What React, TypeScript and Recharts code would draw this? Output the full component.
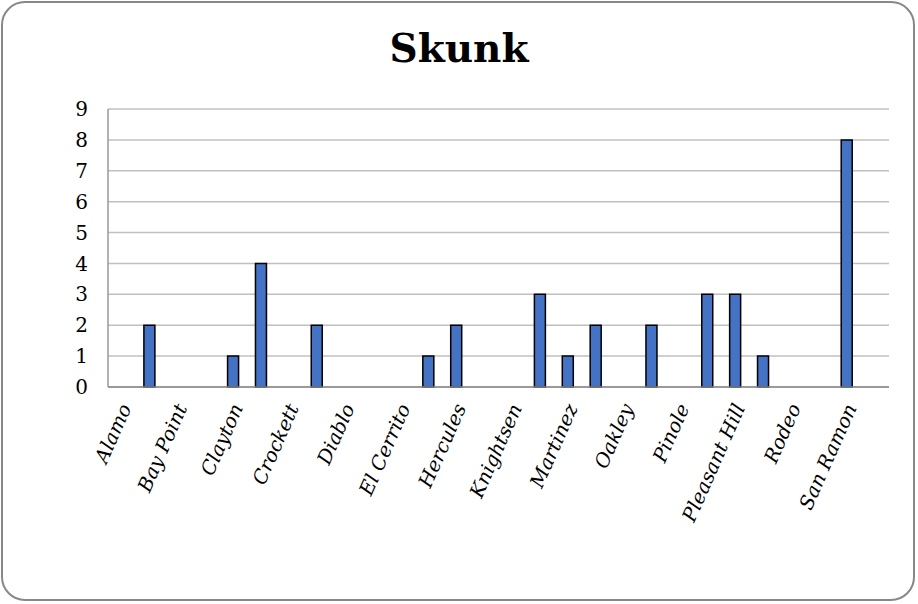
import { Bar, BarChart, CartesianGrid, XAxis, YAxis } from 'recharts'

// Skunk reports by community
const towns = [
  'Alamo', 'Antioch', 'Bay Point', 'Brentwood', 'Clayton', 'Concord', 'Crockett',
  'Danville', 'Diablo', 'Discovery Bay', 'El Cerrito', 'El Sobrante', 'Hercules',
  'Kensington', 'Knightsen', 'Lafayette', 'Martinez', 'Moraga', 'Oakley', 'Orinda',
  'Pinole', 'Pittsburg', 'Pleasant Hill', 'Richmond', 'Rodeo', 'San Pablo',
  'San Ramon', 'Walnut Creek',
]
const counts = [
  0, 2, 0, 0, 1, 4, 0,
  2, 0, 0, 0, 1, 2,
  0, 0, 3, 1, 2, 0, 2,
  0, 3, 3, 1, 0, 0,
  8, 0,
]
const yTicks = [0, 1, 2, 3, 4, 5, 6, 7, 8, 9]

const data = towns.map((name, i) => ({ name, count: counts[i] }))

const FONT = '"DejaVu Serif", "Liberation Serif", serif'

function TownTick(props: any) {
  const { x, y, payload } = props
  const ax = x + 4
  const ay = y + 10
  return (
    <text
      x={ax}
      y={ay}
      transform={`rotate(-66, ${ax}, ${ay})`}
      textAnchor='end'
      dominantBaseline='central'
      fontFamily={FONT}
      fontStyle='italic'
      fontSize={19.5}
      fill='#000'
    >
      {payload.value}
    </text>
  )
}

export default function App() {
  return (
    <div
      style={{
        position: 'absolute',
        left: 0,
        top: 0,
        width: 918,
        height: 604,
        background: '#fff',
      }}
    >
      <div
        style={{
          position: 'absolute',
          left: 1,
          top: 1,
          width: 914,
          height: 600,
          border: '2px solid #888',
          borderRadius: 24,
          boxSizing: 'border-box',
        }}
      />
      <div
        style={{
          position: 'absolute',
          left: 0,
          top: 22,
          width: 918,
          textAlign: 'center',
          fontFamily: FONT,
          fontWeight: 'bold',
          fontSize: 39,
          lineHeight: '52px',
        }}
      >
        Skunk
      </div>
      <div style={{ position: 'absolute', left: 0, top: 0 }}>
        <BarChart
          width={918}
          height={604}
          data={data}
          margin={{ top: 109, right: 29, bottom: 87, left: 0 }}
          barSize={11}
        >
          <CartesianGrid vertical={false} stroke='#c0c0c0' strokeWidth={1.5} />
          <XAxis
            dataKey='name'
            interval={1}
            height={130}
            tickLine={false}
            axisLine={{ stroke: '#878787', strokeWidth: 1.5 }}
            tick={<TownTick />}
          />
          <YAxis
            width={108}
            domain={[0, 9]}
            ticks={yTicks}
            interval={0}
            tickLine={false}
            axisLine={{ stroke: '#999', strokeWidth: 1.5 }}
            tick={{ fontFamily: FONT, fontSize: 20, fill: '#000' }}
            tickMargin={14}
          />
          <Bar
            dataKey='count'
            fill='#4472C4'
            stroke='#000'
            strokeWidth={1.5}
            isAnimationActive={false}
          />
        </BarChart>
      </div>
    </div>
  )
}
